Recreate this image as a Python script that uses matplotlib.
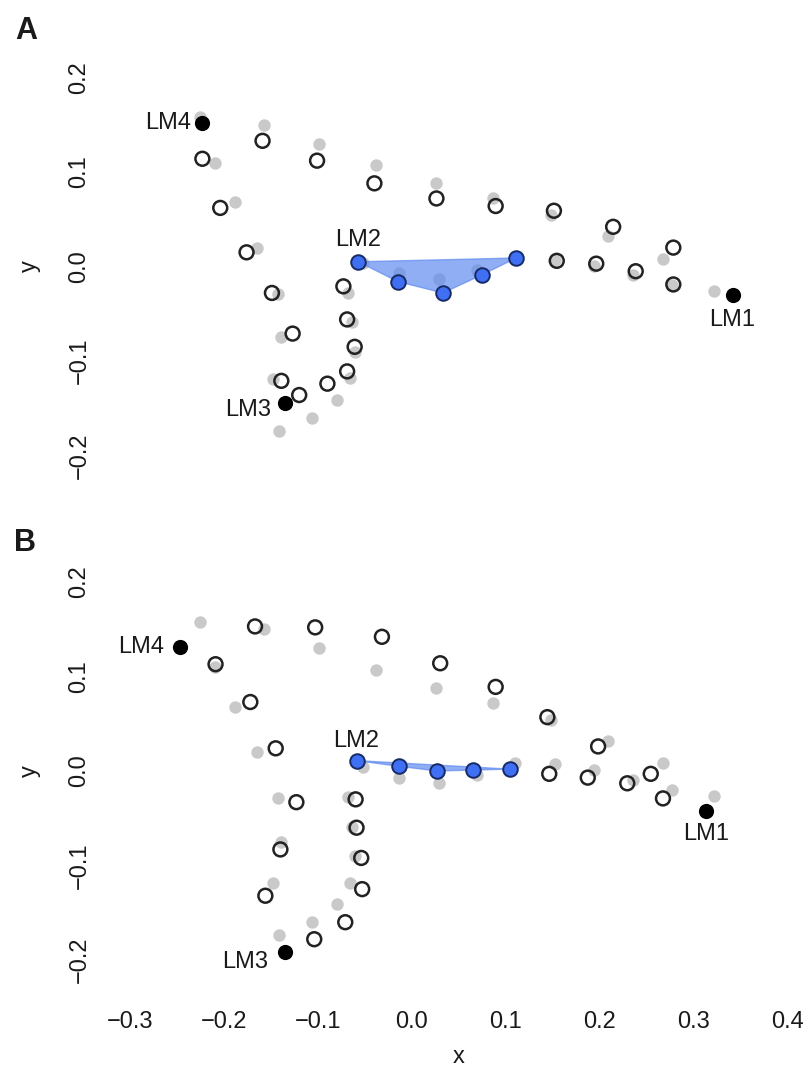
import matplotlib
matplotlib.use('Agg')
import matplotlib.pyplot as plt
from matplotlib.patches import Polygon

plt.rcParams['font.family'] = ['Liberation Sans', 'DejaVu Sans']

# ---------------- data ----------------
lm_names = ["LM1", "LM2", "LM3", "LM4"]

# reference (grey) configuration, shared by both panels
ref_lm_x = [0.321, -0.052, -0.142, -0.226]
ref_lm_y = [-0.026, 0.004, -0.174, 0.158]
ref_c1_x = [-0.157, -0.099, -0.038, 0.025, 0.086, 0.148, 0.209, 0.267]   # LM4 -> LM1 (upper)
ref_c1_y = [0.150, 0.130, 0.107, 0.088, 0.072, 0.054, 0.032, 0.008]
ref_c2_x = [-0.210, -0.188, -0.165, -0.143, -0.139, -0.148]              # LM4 -> LM3
ref_c2_y = [0.110, 0.068, 0.020, -0.029, -0.075, -0.119]
ref_c3_x = [-0.106, -0.080, -0.066, -0.061, -0.064, -0.068]              # LM3 -> LM2
ref_c3_y = [-0.160, -0.141, -0.118, -0.090, -0.059, -0.028]
ref_c4_x = [-0.014, 0.029, 0.069, 0.110, 0.152, 0.194, 0.235, 0.277]     # LM2 -> LM1
ref_c4_y = [-0.007, -0.013, -0.004, 0.008, 0.007, 0.001, -0.009, -0.020]

# panel A target
a_lm_x = [0.341, -0.057, -0.135, -0.223]
a_lm_y = [-0.030, 0.005, -0.144, 0.152]
a_c1_x = [-0.159, -0.101, -0.040, 0.026, 0.089, 0.151, 0.214, 0.278]
a_c1_y = [0.133, 0.112, 0.088, 0.072, 0.064, 0.059, 0.042, 0.020]
a_c2_x = [-0.223, -0.204, -0.176, -0.149, -0.127, -0.139]
a_c2_y = [0.114, 0.062, 0.015, -0.028, -0.071, -0.121]
a_c3_x = [-0.120, -0.090, -0.069, -0.061, -0.069, -0.073]
a_c3_y = [-0.136, -0.124, -0.111, -0.085, -0.056, -0.021]
a_c4_x = [-0.015, 0.033, 0.074, 0.111, 0.154, 0.196, 0.238, 0.278]
a_c4_y = [-0.016, -0.028, -0.009, 0.009, 0.006, 0.003, -0.005, -0.019]

# panel B target
b_lm_x = [0.313, -0.059, -0.135, -0.247]
b_lm_y = [-0.042, 0.011, -0.192, 0.131]
b_c1_x = [-0.167, -0.103, -0.032, 0.030, 0.089, 0.144, 0.198, 0.254]
b_c1_y = [0.153, 0.152, 0.142, 0.114, 0.089, 0.057, 0.026, -0.003]
b_c2_x = [-0.209, -0.172, -0.145, -0.123, -0.140, -0.156]
b_c2_y = [0.113, 0.073, 0.024, -0.033, -0.083, -0.132]
b_c3_x = [-0.104, -0.071, -0.053, -0.054, -0.059, -0.060]
b_c3_y = [-0.178, -0.160, -0.125, -0.092, -0.060, -0.030]
b_c4_x = [-0.014, 0.027, 0.065, 0.104, 0.146, 0.187, 0.229, 0.267]
b_c4_y = [0.005, 0.000, 0.001, 0.002, -0.003, -0.007, -0.013, -0.029]

n_highlight = 4   # semilandmarks of LM2->LM1 curve highlighted in blue

x_ticks = [-0.3, -0.2, -0.1, 0.0, 0.1, 0.2, 0.3, 0.4]
y_ticks = [-0.2, -0.1, 0.0, 0.1, 0.2]

# ---------------- style ----------------
GREY = '#c9c9c9'
EDGE = '#222222'
BLUE = '#3f6ff2'
BLUE_EDGE = '#172a66'
POLY = '#5c88f0'
TXT = '#1a1a1a'
FS = 17

W, H = 809, 1070
fig = plt.figure(figsize=(W / 100, H / 100), dpi=100)

xlim = (-0.32, 0.42)
ylim = (-0.235, 0.235)
sx, sy = 940.0, 945.0
left_px = 412 - 0.32 * sx
w_px = (xlim[1] - xlim[0]) * sx
h_px = (ylim[1] - ylim[0]) * sy


def make_axes(zero_px):
    top_px = zero_px - ylim[1] * sy
    bottom_px = top_px + h_px
    return fig.add_axes([left_px / W, 1 - bottom_px / H, w_px / W, h_px / H]), bottom_px


def draw(ax, bottom_px, lm_x, lm_y, curves, label_offsets, show_x):
    # reference grey dots
    gx = ref_lm_x + ref_c1_x + ref_c2_x + ref_c3_x + ref_c4_x
    gy = ref_lm_y + ref_c1_y + ref_c2_y + ref_c3_y + ref_c4_y
    ax.scatter(gx, gy, s=80, color=GREY, linewidths=0, zorder=1)

    c1x, c1y, c2x, c2y, c3x, c3y, c4x, c4y = curves
    # polygon of highlighted section
    px = [lm_x[1]] + c4x[:n_highlight]
    py = [lm_y[1]] + c4y[:n_highlight]
    ax.add_patch(Polygon(list(zip(px, py)), closed=True, facecolor=POLY,
                         edgecolor=POLY, linewidth=1.0, alpha=0.68, zorder=2))

    # open circles
    ox = c1x + c2x + c3x + c4x[n_highlight:]
    oy = c1y + c2y + c3y + c4y[n_highlight:]
    ax.scatter(ox, oy, s=100, facecolors='none', edgecolors=EDGE,
               linewidths=1.8, zorder=3)

    # blue points (LM2 + highlighted semilandmarks)
    ax.scatter(px, py, s=110, color=BLUE, edgecolors=BLUE_EDGE,
               linewidths=1.4, zorder=4)

    # black landmarks
    bx = [lm_x[0], lm_x[2], lm_x[3]]
    by = [lm_y[0], lm_y[2], lm_y[3]]
    ax.scatter(bx, by, s=120, color='black', linewidths=0, zorder=5)

    for i, name in enumerate(lm_names):
        dx, dy, ha = label_offsets[i]
        ax.annotate(name, (lm_x[i], lm_y[i]), xytext=(dx, dy),
                    textcoords='offset points', ha=ha, va='center',
                    fontsize=FS, color=TXT, zorder=6)

    ax.set_xlim(*xlim)
    ax.set_ylim(*ylim)
    for s in ax.spines.values():
        s.set_visible(False)
    ax.set_yticks(y_ticks)
    ax.set_yticklabels([f"{v:.1f}".replace('-', '\u2212') for v in y_ticks],
                       rotation=90, va='center', fontsize=FS, color=TXT)
    ax.tick_params(axis='y', length=0, pad=15)
    ax.set_ylabel('y', fontsize=FS, color=TXT, rotation=90)
    ax.yaxis.set_label_coords((41 - left_px) / w_px, 0.5)
    if show_x:
        ax.set_xticks(x_ticks)
        ax.set_xticklabels([f"{v:.1f}".replace('-', '\u2212') for v in x_ticks],
                           fontsize=FS, color=TXT)
        ax.tick_params(axis='x', length=0, pad=13)
        ax.set_xlabel('x', fontsize=FS, color=TXT)
        ax.xaxis.label.set_va('baseline')
        ax.xaxis.set_label_coords(0.5, -(1063 - bottom_px) / h_px)
    else:
        ax.set_xticks([])


axA, botA = make_axes(266.5)
draw(axA, botA, a_lm_x, a_lm_y,
     (a_c1_x, a_c1_y, a_c2_x, a_c2_y, a_c3_x, a_c3_y, a_c4_x, a_c4_y),
     [(0, -18, 'center'), (0, 16, 'center'), (-10, -5, 'right'), (-8, 0, 'right')],
     show_x=False)

axB, botB = make_axes(771)
draw(axB, botB, b_lm_x, b_lm_y,
     (b_c1_x, b_c1_y, b_c2_x, b_c2_y, b_c3_x, b_c3_y, b_c4_x, b_c4_y),
     [(0, -17, 'center'), (0, 14, 'center'), (-12, -7, 'right'), (-11, 0, 'right')],
     show_x=True)

fig.text(26 / W, 1 - 31 / H, 'A', fontsize=22, fontweight='bold',
         ha='center', va='center', color=TXT)
fig.text(25 / W, 1 - 543 / H, 'B', fontsize=22, fontweight='bold',
         ha='center', va='center', color=TXT)

fig.savefig('out.png', dpi=100)
